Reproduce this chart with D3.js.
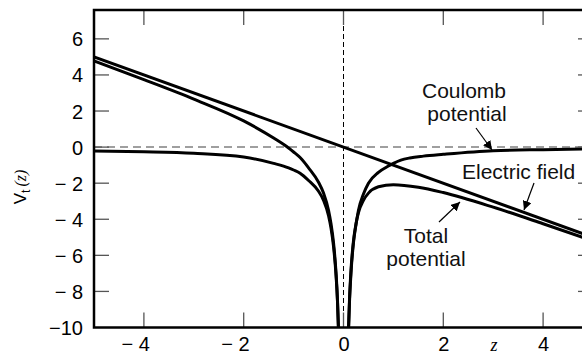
<!DOCTYPE html>
<html>
<head>
<meta charset="utf-8">
<script src="https://cdn.jsdelivr.net/npm/d3@7"></script>
<style>
  html, body { margin: 0; padding: 0; background: #fff; }
  svg { display: block; font-family: "Liberation Sans", Arial, sans-serif; }
</style>
</head>
<body>
<svg id="chart" width="582" height="354" viewBox="0 0 582 354"></svg>
<script>
// values
const xTicks = [-4, -2, 0, 2, 4]
const yTicks = [6, 4, 2, 0, -2, -4, -6, -8, -10]
const yTickLabels = ["6", "4", "2", "0", "\u2212 2", "\u2212 4", "\u2212 6", "\u2212 8", "\u221210"]
const xTickLabels = ["\u2212 4", "\u2212 2", "0", "2", "4"]

const fieldZ = [-5, 5]
const fieldV = [5, -5]

const coulombLeftZ = [-5, -4, -3, -2, -1.4, -1.1, -1, -0.87, -0.7, -0.5, -0.4, -0.3, -0.25, -0.2, -0.15, -0.12, -0.1, -0.09]
const coulombLeftV = [-0.22, -0.26, -0.34, -0.55, -0.9, -1.15, -1.27, -1.45, -1.85, -2.45, -2.95, -3.8, -4.5, -5.5, -7.1, -8.6, -10.2, -11.2]
const coulombRightZ = [0.09, 0.1, 0.12, 0.15, 0.2, 0.25, 0.3, 0.4, 0.5, 0.7, 0.9, 1, 1.15, 1.33, 1.6, 2, 3, 4, 5]
const coulombRightV = [-11.2, -10.2, -8.6, -7.0, -5.3, -4.3, -3.5, -2.6, -2.0, -1.4, -1.05, -0.9, -0.72, -0.6, -0.5, -0.4, -0.2, -0.14, -0.1]

const totalLeftZ = [-5, -4, -3, -2, -1.4, -1.1, -1, -0.87, -0.7, -0.5, -0.4, -0.3, -0.25, -0.2, -0.15, -0.12, -0.1, -0.09]
const totalLeftV = [4.78, 3.74, 2.66, 1.45, 0.5, -0.05, -0.27, -0.58, -1.15, -1.95, -2.55, -3.5, -4.25, -5.3, -6.95, -8.5, -10.1, -11.1]
const totalRightZ = [0.09, 0.1, 0.12, 0.15, 0.2, 0.25, 0.3, 0.4, 0.5, 0.7, 1, 1.5, 2, 3, 4, 5]
const totalRightV = [-11.2, -10.1, -8.45, -6.82, -5.2, -4.25, -3.63, -2.95, -2.55, -2.2, -2.08, -2.22, -2.52, -3.33, -4.25, -5.2]

const svg = d3.select("#chart")

const x = d3.scaleLinear().domain([-5, 5]).range([94, 593])
const y = d3.scaleLinear().domain([-10, 7.6]).range([327.5, 10])

const pLeft = x(-5), pRight = x(5), pTop = y(7.6), pBottom = y(-10)

const defs = svg.append("defs")
defs.append("clipPath").attr("id", "plotclip")
    .append("rect")
    .attr("x", pLeft).attr("y", pTop)
    .attr("width", pRight - pLeft).attr("height", pBottom - pTop)

const marker = defs.append("marker")
    .attr("id", "arrow")
    .attr("viewBox", "0 0 10 10")
    .attr("refX", 10).attr("refY", 5)
    .attr("markerWidth", 9).attr("markerHeight", 9)
    .attr("markerUnits", "userSpaceOnUse")
    .attr("orient", "auto")
marker.append("path").attr("d", "M0,0 L10,5 L0,10 Z").attr("fill", "#000")

// dashed reference lines
const plot = svg.append("g").attr("clip-path", "url(#plotclip)")

plot.append("line")
    .attr("x1", pLeft).attr("x2", pRight)
    .attr("y1", y(0)).attr("y2", y(0))
    .attr("stroke", "#808080").attr("stroke-width", 1.5)
    .attr("stroke-dasharray", "8,5")

plot.append("line")
    .attr("x1", x(0)).attr("x2", x(0))
    .attr("y1", pTop).attr("y2", pBottom)
    .attr("stroke", "#000").attr("stroke-width", 1)
    .attr("stroke-dasharray", "5,3")

// curves
const line = d3.line()
    .x(d => x(d[0]))
    .y(d => y(d[1]))
    .curve(d3.curveMonotoneX)

const series = [
    [fieldZ, fieldV],
    [coulombLeftZ, coulombLeftV],
    [coulombRightZ, coulombRightV],
    [totalLeftZ, totalLeftV],
    [totalRightZ, totalRightV]
]

plot.selectAll(".curve")
    .data(series)
    .enter()
    .append("path")
    .attr("class", "curve")
    .attr("d", s => line(d3.zip(s[0], s[1])))
    .attr("fill", "none")
    .attr("stroke", "#000")
    .attr("stroke-width", 3)
    .attr("stroke-linejoin", "round")

// ticks (inside, on all four sides)
const tickLen = 15
const ticks = svg.append("g").attr("stroke", "#555").attr("stroke-width", 1.3)
xTicks.forEach(t => {
    ticks.append("line").attr("x1", x(t)).attr("x2", x(t)).attr("y1", pBottom).attr("y2", pBottom - tickLen)
    ticks.append("line").attr("x1", x(t)).attr("x2", x(t)).attr("y1", pTop).attr("y2", pTop + tickLen)
})
yTicks.slice(0, -1).forEach(t => {
    ticks.append("line").attr("x1", pLeft).attr("x2", pLeft + tickLen).attr("y1", y(t)).attr("y2", y(t))
    ticks.append("line").attr("x1", pRight).attr("x2", pRight - tickLen).attr("y1", y(t)).attr("y2", y(t))
})

// frame
svg.append("rect")
    .attr("x", pLeft).attr("y", pTop)
    .attr("width", pRight - pLeft).attr("height", pBottom - pTop)
    .attr("fill", "none")
    .attr("stroke", "#000")
    .attr("stroke-width", 2.5)

// tick labels
svg.append("g").selectAll("text")
    .data(yTicks)
    .enter()
    .append("text")
    .attr("x", 83)
    .attr("y", d => y(d) + 7.5)
    .attr("text-anchor", "end")
    .attr("font-size", 20)
    .text((d, i) => yTickLabels[i])

svg.append("g").selectAll("text")
    .data(xTicks)
    .enter()
    .append("text")
    .attr("x", d => x(d) + 6)
    .attr("y", 351)
    .attr("text-anchor", "end")
    .attr("font-size", 20)
    .text((d, i) => xTickLabels[i])

// axis titles
svg.append("text")
    .attr("x", 494).attr("y", 351)
    .attr("text-anchor", "middle")
    .attr("font-family", "'Liberation Serif', serif")
    .attr("font-style", "italic")
    .attr("font-size", 18)
    .text("z")

const ylab = svg.append("text")
    .attr("transform", "translate(26,187) rotate(-90)")
    .attr("text-anchor", "middle")
    .attr("font-size", 17)
ylab.append("tspan").text("V")
ylab.append("tspan").attr("font-size", 12).attr("dy", 4).text("t")
ylab.append("tspan").attr("dy", -4).attr("dx", 3)
    .attr("font-family", "'Liberation Serif', serif")
    .attr("font-style", "italic").attr("font-size", 16).text("(z)")

// annotations
const notes = svg.append("g").attr("font-size", 21).attr("fill", "#111")
notes.append("text").attr("x", 464).attr("y", 98).attr("text-anchor", "middle").text("Coulomb")
notes.append("text").attr("x", 467).attr("y", 121).attr("text-anchor", "middle").text("potential")
notes.append("text").attr("x", 462).attr("y", 179).text("Electric field")
notes.append("text").attr("x", 426).attr("y", 243).attr("text-anchor", "middle").text("Total")
notes.append("text").attr("x", 426).attr("y", 266).attr("text-anchor", "middle").text("potential")

const arrows = [
    [476, 128, 492, 150],
    [534, 183, 524, 210],
    [439, 222, 460, 202]
]
svg.append("g").selectAll("line")
    .data(arrows)
    .enter()
    .append("line")
    .attr("x1", d => d[0]).attr("y1", d => d[1])
    .attr("x2", d => d[2]).attr("y2", d => d[3])
    .attr("stroke", "#000").attr("stroke-width", 1.2)
    .attr("marker-end", "url(#arrow)")
</script>
</body>
</html>
